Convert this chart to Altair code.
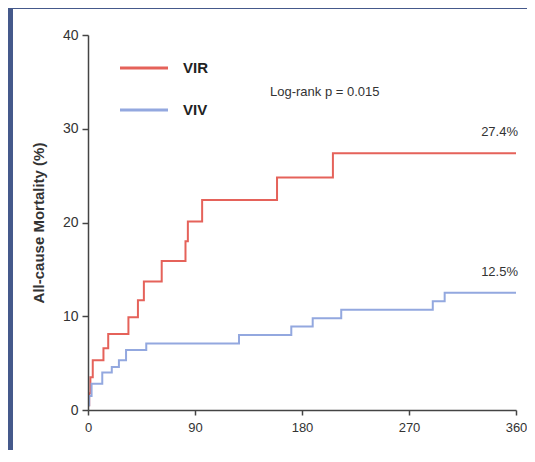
import altair as alt
import pandas as pd

# ---- data ----
groups = ["VIR", "VIV"]
colors = ["#e5625a", "#93a8df"]
vir_days = [0, 1, 2, 4, 13, 17, 34, 42, 47, 62, 82, 84, 96, 159, 206, 360]
vir_mort = [0.5, 1.8, 3.5, 5.3, 6.6, 8.1, 9.9, 11.7, 13.7, 15.9, 18.0, 20.1, 22.4, 24.8, 27.4, 27.4]
viv_days = [0, 1, 3, 12, 20, 26, 32, 49, 127, 171, 189, 213, 290, 300, 360]
viv_mort = [0.5, 1.5, 2.8, 4.0, 4.6, 5.3, 6.4, 7.1, 8.0, 8.9, 9.8, 10.7, 11.6, 12.5, 12.5]
end_day = [360, 360]
end_value = [27.4, 12.5]
end_labels = ["27.4%", "12.5%"]
x_ticks = [0, 90, 180, 270, 360]
y_ticks = [0, 10, 20, 30, 40]
pvalue_text = "Log-rank p = 0.015"

FONT = "Liberation Sans"

df = pd.concat([
    pd.DataFrame({"day": vir_days, "mort": vir_mort, "group": "VIR"}),
    pd.DataFrame({"day": viv_days, "mort": viv_mort, "group": "VIV"}),
])
ends = pd.DataFrame({"day": end_day, "mort": end_value, "label": end_labels, "group": groups})

xscale = alt.Scale(domain=[0, 360], nice=False)
yscale = alt.Scale(domain=[0, 40], nice=False)
cscale = alt.Scale(domain=groups, range=colors)

panel = alt.Chart(pd.DataFrame({"a": [0]})).mark_rect(color="white").encode(
    x=alt.value(-75), x2=alt.value(520), y=alt.value(-26), y2=alt.value(520)
)

lines = alt.Chart(df).mark_line(interpolate="step-after", strokeWidth=2).encode(
    x=alt.X("day:Q", scale=xscale,
            axis=alt.Axis(values=x_ticks, title=None, grid=False, tickSize=5,
                          labelPadding=6, labelFont=FONT, labelFontSize=13,
                          labelFlush=False, labelBound=False,
                          labelColor="#333", domainColor="#444", tickColor="#444",
                          domainWidth=1.5, tickWidth=1.5, zindex=2)),
    y=alt.Y("mort:Q", scale=yscale,
            axis=alt.Axis(values=y_ticks, title="All-cause Mortality (%)", grid=False,
                          tickSize=6, labelPadding=4, labelFont=FONT, labelFontSize=14,
                          labelFlush=False, labelBound=False,
                          labelColor="#333", domainColor="#444", tickColor="#444",
                          domainWidth=1.5, tickWidth=1.5, zindex=2,
                          titleFont=FONT, titleFontSize=15,
                          titleFontWeight="bold", titleColor="#333", titlePadding=16)),
    color=alt.Color("group:N", scale=cscale, legend=None),
)

end_text = alt.Chart(ends).mark_text(align="right", baseline="middle", dy=-21, dx=2,
                                     font=FONT, fontSize=13, color="#333").encode(
    x=alt.X("day:Q", scale=xscale), y=alt.Y("mort:Q", scale=yscale), text="label:N"
)

ptext = alt.Chart(pd.DataFrame({"t": [pvalue_text]})).mark_text(
    align="left", baseline="middle", font=FONT, fontSize=13, color="#333"
).encode(x=alt.value(182), y=alt.value(57), text="t:N")

legend_layers = []
leg_y = [33, 75]
for g, c, yy in zip(groups, colors, leg_y):
    d = pd.DataFrame({"group": [g]})
    legend_layers.append(
        alt.Chart(d).mark_rule(strokeWidth=3, color=c).encode(
            x=alt.value(32), x2=alt.value(80), y=alt.value(yy))
    )
    legend_layers.append(
        alt.Chart(d).mark_text(align="left", baseline="middle", font=FONT,
                               fontSize=15, fontWeight="bold", color="#222").encode(
            x=alt.value(95), y=alt.value(yy), text="group:N")
    )

chart = alt.layer(panel, lines, end_text, ptext, *legend_layers).properties(
    width=428, height=375,
    autosize=alt.AutoSizeParams(type="none"),
    padding={"left": 80, "top": 27, "right": 11, "bottom": 40},
    background="#45598b",
).configure_view(stroke=None)

chart.save("out.html", embed_options={"renderer": "svg", "actions": False})
